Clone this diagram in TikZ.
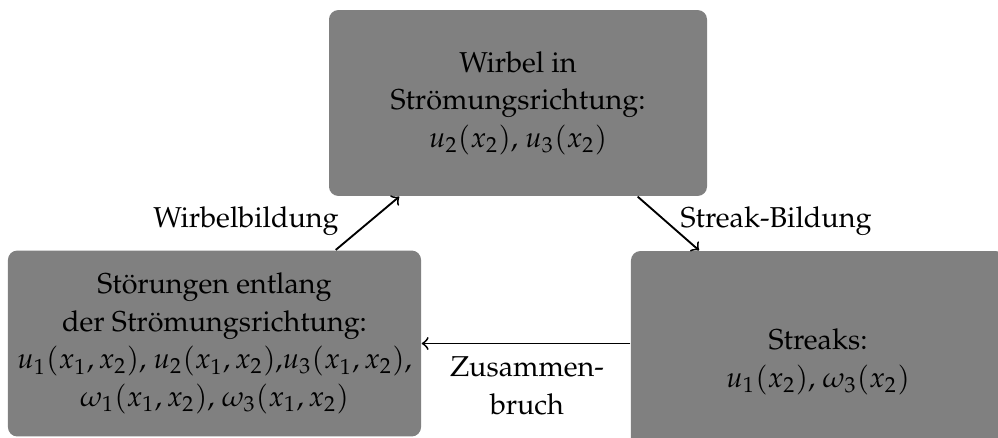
\documentclass[tikz,border=0pt]{standalone}
\usepackage[T1]{fontenc}
\usepackage{mathpazo}
\newcommand{\diagfont}{\fontsize{9.2}{12}\selectfont}
\tikzset{
  statebox/.style={fill=gray, rounded corners=3pt, align=center, inner sep=2pt,
    text=black, font=\diagfont},
  flow/.style={->, black, line width=0.6pt},
  flowlabel/.style={align=center, inner sep=0pt, font=\diagfont}
}
\begin{document}
\begin{tikzpicture}[x=0.32pt, y=-0.32pt]
  \useasboundingbox (0,0) rectangle (998,437);
  \clip (0,0) rectangle (998,437);

  % the three states of the cycle
  \node[statebox, minimum width=120.96pt, minimum height=59.5pt] (top) at (518,103)
    {Wirbel in\\Str\"omungsrichtung:\\$u_2(x_2)$, $u_3(x_2)$};
  \node[statebox, minimum width=132.2pt, minimum height=59.5pt] (left) at (214.5,343.5)
    {St\"orungen entlang\\der Str\"omungsrichtung:\\
     $u_1(x_1,x_2)$, $u_2(x_1,x_2)$,$u_3(x_1,x_2)$,\\
     $\omega_1(x_1,x_2)$, $\omega_3(x_1,x_2)$};
  \node[statebox, minimum width=119.7pt, minimum height=71pt] (right) at (818,362)
    {Streaks:\\$u_1(x_2)$, $\omega_3(x_2)$};

  % transitions
  \draw[flow] ([xshift=-27.5pt]left.north east) -- ([xshift=22.7pt]top.south west);
  \draw[flow] ([xshift=-22.4pt]top.south east) -- ([xshift=22pt]right.north west);
  \draw[flow] (left.east -| right.west) -- (left.east);

  % transition labels
  \node[flowlabel] (lab1) at (246,221) {Wirbelbildung};
  \node[flowlabel] (lab2) at (776,221) {Streak-Bildung};
  \node[flowlabel] (lab3) at (527,386) {Zusammen-\\bruch};
\end{tikzpicture}
\end{document}
